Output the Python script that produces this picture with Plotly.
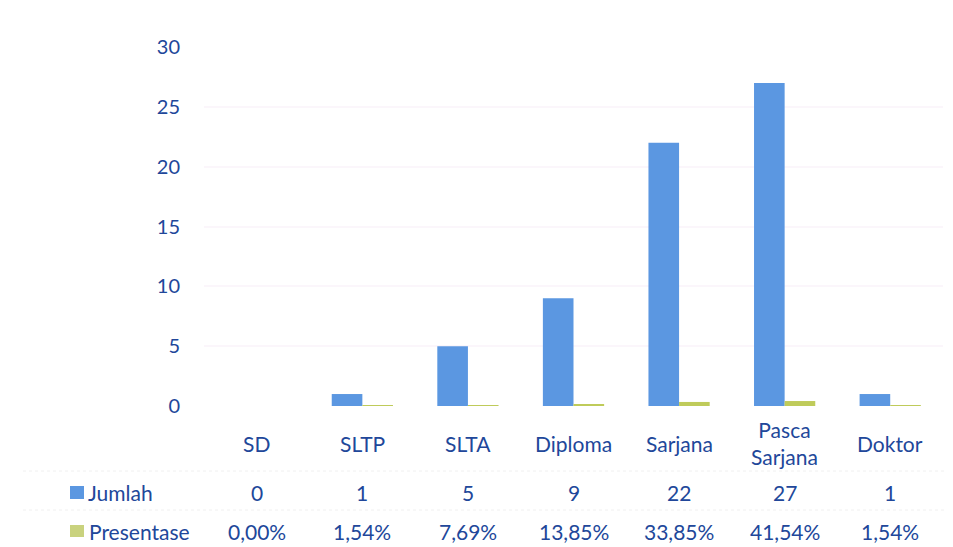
import plotly.graph_objects as go

categories = ["SD", "SLTP", "SLTA", "Diploma", "Sarjana", "Pasca Sarjana", "Doktor"]
category_labels = ["SD", "SLTP", "SLTA", "Diploma", "Sarjana", "Pasca<br>Sarjana", "Doktor"]
jumlah = [0, 1, 5, 9, 22, 27, 1]
presentase = [0.0, 0.0154, 0.0769, 0.1385, 0.3385, 0.4154, 0.0154]
presentase_labels = ["0,00%", "1,54%", "7,69%", "13,85%", "33,85%", "41,54%", "1,54%"]
y_ticks = [0, 5, 10, 15, 20, 25, 30]

BLUE = "#5B97E1"
GREEN = "#BFCB5A"
TEXT = "#21479A"
FONT = "Lato, Carlito, Calibri, sans-serif"
FS = 21

W, H = 953, 547
ML, MR, MT, MB = 196, 18, 39, 149
PW = W - ML - MR
PH = H - MT - MB

fig = go.Figure()
fig.add_trace(go.Bar(x=categories, y=jumlah, name="Jumlah", marker=dict(color=BLUE, line=dict(width=0))))
fig.add_trace(go.Bar(x=categories, y=presentase, name="Presentase", marker=dict(color=GREEN, line=dict(width=0))))

def py(px):
    return (H - MB - px) / PH

def pxx(px):
    return (px - ML) / PW

annotations = []
for c, lab in zip(categories, category_labels):
    annotations.append(dict(x=c, xref="x", y=py(435), yref="paper", text=lab, showarrow=False,
                            xanchor="center", yanchor="middle", font=dict(size=FS, color=TEXT, family=FONT)))
for c, v in zip(categories, jumlah):
    annotations.append(dict(x=c, xref="x", y=py(485), yref="paper", text=str(v), showarrow=False,
                            xanchor="center", yanchor="middle", font=dict(size=FS, color=TEXT, family=FONT)))
for c, v in zip(categories, presentase_labels):
    annotations.append(dict(x=c, xref="x", y=py(523), yref="paper", text=v, showarrow=False,
                            xanchor="center", yanchor="middle", font=dict(size=FS, color=TEXT, family=FONT)))
annotations.append(dict(x=pxx(78), xref="paper", y=py(485), yref="paper", text="Jumlah", showarrow=False,
                        xanchor="left", yanchor="middle", font=dict(size=FS, color=TEXT, family=FONT)))
annotations.append(dict(x=pxx(79), xref="paper", y=py(523), yref="paper", text="Presentase", showarrow=False,
                        xanchor="left", yanchor="middle", font=dict(size=FS, color=TEXT, family=FONT)))

shapes = [
    dict(type="rect", xref="paper", yref="paper", x0=pxx(62), x1=pxx(76), y0=py(478), y1=py(491),
         fillcolor=BLUE, line=dict(width=0)),
    dict(type="rect", xref="paper", yref="paper", x0=pxx(62), x1=pxx(76), y0=py(517), y1=py(529),
         fillcolor="#C9D27E", line=dict(width=0)),
]
for ly in (463, 502, 541):
    shapes.append(dict(type="line", xref="paper", yref="paper", x0=pxx(15), x1=pxx(940), y0=py(ly), y1=py(ly),
                       line=dict(color="#F0F0F0", width=1, dash="dot")))

fig.update_layout(
    width=W, height=H,
    margin=dict(l=ML, r=MR, t=MT, b=MB),
    paper_bgcolor="white", plot_bgcolor="white",
    barmode="group", bargap=0.42, bargroupgap=0,
    showlegend=False,
    font=dict(family=FONT, size=FS, color=TEXT),
    xaxis=dict(showticklabels=False, showgrid=False, zeroline=False, showline=False, ticks=""),
    yaxis=dict(range=[0, 30], tickvals=y_ticks, ticktext=[str(t) for t in y_ticks],
               showgrid=True, gridcolor="#FBF6FB", gridwidth=1.5, zeroline=False, showline=False,
               ticks="", ticklabelstandoff=23, layer="above traces",
               tickfont=dict(size=20, color=TEXT, family=FONT)),
    annotations=annotations,
    shapes=shapes,
)

fig.write_html("out.html")
